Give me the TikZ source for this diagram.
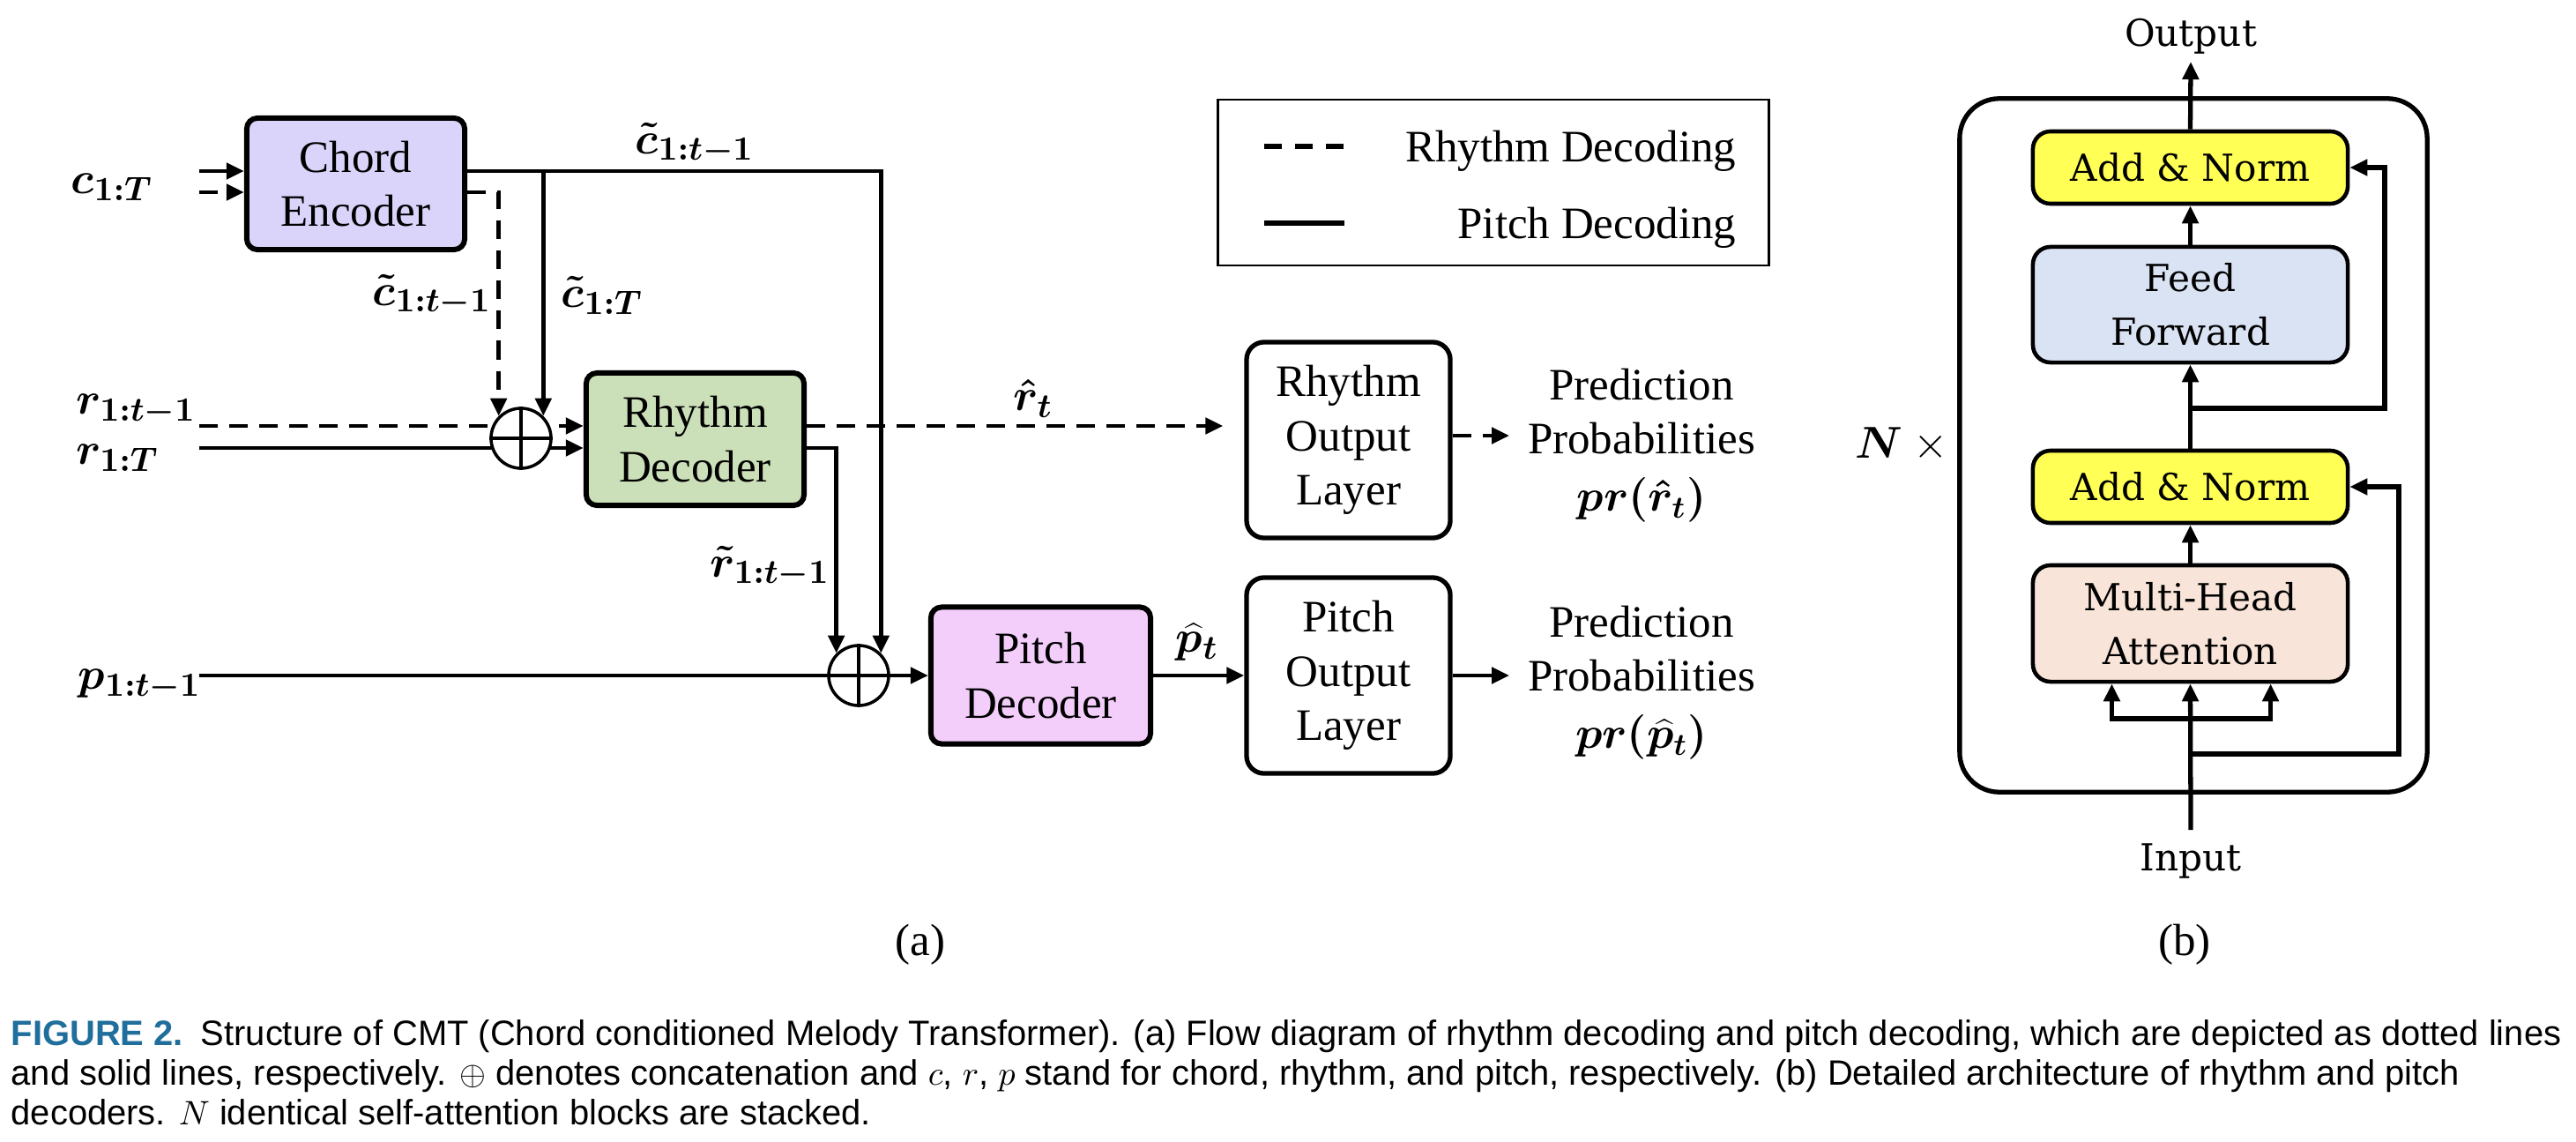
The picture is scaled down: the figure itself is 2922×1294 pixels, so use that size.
\documentclass[tikz,border=0pt]{standalone}
\usepackage{fontspec}
\setmainfont{Liberation Serif}
\newfontfamily\capfam{Liberation Sans}
\newfontfamily\bfam{DejaVu Serif}
\usetikzlibrary{arrows.meta,calc}
\definecolor{chordc}{RGB}{218,212,250}
\definecolor{rhyc}{RGB}{203,223,184}
\definecolor{pitc}{RGB}{244,206,250}
\definecolor{ylw}{RGB}{255,255,85}
\definecolor{ffc}{RGB}{218,227,243}
\definecolor{mhac}{RGB}{248,228,216}
\definecolor{capblue}{RGB}{31,110,155}
\newcommand\mainsz{\fontsize{14.5}{17.5}\selectfont}
\newcommand\lblsz{\fontsize{15}{18}\selectfont\boldmath}
\newcommand\bsz{\bfam\fontsize{12}{17.3}\selectfont}
\newcommand\capsz{\capfam\fontsize{11.35}{13}\selectfont}
\pgfdeclarelayer{bg}
\pgfsetlayers{bg,main}
\tikzset{
  blk/.style={draw, line width=1.7pt, rounded corners=0.12cm, align=center, font=\mainsz, inner sep=0pt},
  olay/.style={draw, line width=1.5pt, rounded corners=0.2cm, align=center, font=\mainsz, fill=white, inner sep=0pt},
  conn/.style={line width=1.35pt},
  dsh/.style={line width=1.35pt, dash pattern=on 0.21cm off 0.13cm},
  lbl/.style={inner sep=0pt, font=\lblsz},
  txt/.style={inner sep=0pt, font=\mainsz, align=center},
  cat/.style={circle, draw, fill=white, line width=1pt, minimum size=0.68cm, inner sep=0pt},
  bbox/.style={draw, line width=1.3pt, rounded corners=0.2cm, align=center, font=\bsz, inner sep=0pt, minimum width=3.57cm},
  bl/.style={line width=1.5pt},
}
\begin{document}
\begin{tikzpicture}[x=0.01cm, y=-0.01cm, >={Triangle[length=0.2cm,width=0.18cm]}]
\useasboundingbox (0,0) rectangle (2922,1294);

% ---------- panel (a) ----------
\node[blk, fill=chordc, minimum width=2.47cm, minimum height=1.49cm] (ce) at (403.5,208.5) {Chord\\Encoder};
\node[blk, fill=rhyc, minimum width=2.47cm, minimum height=1.50cm] (rd) at (788.5,498) {Rhythm\\Decoder};
\node[blk, fill=pitc, minimum width=2.49cm, minimum height=1.55cm] (pd) at (1180.5,766) {Pitch\\Decoder};
\node[olay, minimum width=2.31cm, minimum height=2.22cm] (rol) at (1529.5,499) {Rhythm\\Output\\Layer};
\node[olay, minimum width=2.31cm, minimum height=2.22cm] (pol) at (1529.5,766) {Pitch\\Output\\Layer};

\node[cat] (rcat) at (591,497) {};
\node[cat] (pcat) at (974,766) {};
\draw[line width=1pt] (rcat.north) -- (rcat.south) (rcat.west) -- (rcat.east);
\draw[line width=1pt] (pcat.north) -- (pcat.south) (pcat.west) -- (pcat.east);

\coordinate (cin1) at (226,194);
\coordinate (cin2) at (226,218);
\coordinate (rin1) at (226,483);
\coordinate (rin2) at (226,508);
\coordinate (pin) at (226,766);
\coordinate (rarr) at (1712,494);
\coordinate (parr) at (1712,766);

\node[lbl, anchor=west] (lc) at (80,212) {$c_{1:T}$};
\node[lbl, anchor=west] (lr1) at (86,465) {$r_{1:t-1}$};
\node[lbl, anchor=west] (lr2) at (86,519) {$r_{1:T}$};
\node[lbl, anchor=west] (lp) at (88,777) {$p_{1:t-1}$};
\node[lbl] (lct) at (788,163) {$\tilde{c}_{1:t-1}$};
\node[lbl, anchor=east] (lcl) at (558,335) {$\tilde{c}_{1:t-1}$};
\node[lbl, anchor=west] (lcr) at (636,335) {$\tilde{c}_{1:T}$};
\node[lbl, anchor=east] (lrt) at (942,643) {$\tilde{r}_{1:t-1}$};
\node[lbl] (lrh) at (1172,452) {$\hat{r}_t$};
\node[lbl] (lph) at (1358,728) {$\widehat{p}_t$};

\node[txt] (rpred) at (1862,505) {Prediction\\Probabilities\\[1pt]{\boldmath$pr(\hat{r}_t)$}};
\node[txt] (ppred) at (1862,774) {Prediction\\Probabilities\\[1pt]{\boldmath$pr(\widehat{p}_t)$}};

% legend
\node[draw, line width=0.8pt, minimum width=6.24cm, minimum height=1.88cm, inner sep=0pt] (leg) at (1694,207) {};
\coordinate (lg1a) at (1434,166);
\coordinate (lg1b) at (1524,166);
\coordinate (lg2a) at (1434,253);
\coordinate (lg2b) at (1525,253);
\draw[line width=1.6pt, dash pattern=on 0.2cm off 0.15cm] (lg1a) -- (lg1b);
\draw[line width=1.6pt] (lg2a) -- (lg2b);
\node[txt, anchor=base east] (lgt1) at (1970,184) {Rhythm Decoding};
\node[txt, anchor=base east] (lgt2) at (1970,270) {Pitch Decoding};

\node[txt] (pa) at (1044,1071) {(a)};
\node[txt] (pb) at (2478,1071) {(b)};

% ---------- panel (b) ----------
\node[draw, line width=1.5pt, rounded corners=0.45cm, minimum width=5.30cm, minimum height=7.86cm, inner sep=0pt] (nblk) at (2488,505) {};
\node[bbox, fill=ylw, minimum height=0.82cm] (an1) at (2484.5,190) {Add \& Norm};
\node[bbox, fill=ffc, minimum height=1.31cm] (ff) at (2484.5,345.5) {Feed\\Forward};
\node[bbox, fill=ylw, minimum height=0.82cm] (an2) at (2484.5,552) {Add \& Norm};
\node[bbox, fill=mhac, minimum height=1.32cm] (mha) at (2484.5,707) {Multi-Head\\Attention};
\node[inner sep=0pt, font=\bsz] (bo) at (2485,41) {Output};
\node[inner sep=0pt, font=\bsz] (bi) at (2485,976) {Input};
\node[inner sep=0pt, font=\mainsz] (nx) at (2157,504) {{\lblsz$N$}~$\times$};
\coordinate (bin) at (2485,941);
\coordinate (bsplit) at (2485,815);
\coordinate (bres1) at (2485,855);
\coordinate (bres2) at (2485,463);
\coordinate (bout) at (2485,70);

% ---------- caption ----------
\node[anchor=base west, inner sep=0pt, font=\capsz] (cap1) at (12,1185) {{\bfseries\color{capblue}FIGURE 2.}\enspace Structure of CMT (Chord conditioned Melody Transformer). (a) Flow diagram of rhythm decoding and pitch decoding, which are depicted as dotted lines};
\node[anchor=base west, inner sep=0pt, font=\capsz] (cap2) at (12,1230) {and solid lines, respectively. $\oplus$ denotes concatenation and $c$, $r$, $p$ stand for chord, rhythm, and pitch, respectively. (b) Detailed architecture of rhythm and pitch};
\node[anchor=base west, inner sep=0pt, font=\capsz] (cap3) at (12,1275) {decoders. $N$ identical self-attention blocks are stacked.};

% ---------- connectors ----------
\begin{pgfonlayer}{bg}
\draw[conn,->] (cin1) -- (cin1 -| ce.west);
\draw[dsh,->] (cin2) -- (cin2 -| ce.west);
\draw[conn,->] (ce.east |- cin1) -| (pcat.north east);
\draw[conn,->] (rcat.north east |- cin1) -- (rcat.north east);
\draw[dsh,->] (ce.east |- cin2) -| (rcat.north west);
\draw[dsh,->] (rin1) -- (rin1 -| rd.west);
\draw[conn,->] (rin2) -- (rin2 -| rd.west);
\draw[dsh,->,shorten >=0.24cm] (rd.east |- rin1) -- (rin1 -| rol.west);
\draw[conn,->] (rd.east |- rin2) -| (pcat.north west);
\draw[conn,->] (pin) -- (pin -| pd.west);
\draw[conn,->] (pd.east) -- (pol.west);
\draw[dsh,->] (rol.east |- rarr) -- (rarr);
\draw[conn,->] (pol.east) -- (parr);

\draw[bl,->] (bin) -- (mha.south);
\draw[bl,->] (bsplit) -| ([xshift=-0.89cm]mha.south);
\draw[bl,->] (bsplit) -| ([xshift=0.91cm]mha.south);
\draw[bl,->] (bres1) -- ++(236,0) |- (an2.east);
\draw[bl,->] (bres2) -- ++(220,0) |- (an1.east);
\draw[bl,->] (mha.north) -- (an2.south);
\draw[bl,->] (an2.north) -- (ff.south);
\draw[bl,->] (ff.north) -- (an1.south);
\draw[bl,->] (an1.north) -- (bout);
\end{pgfonlayer}
\end{tikzpicture}
\end{document}
